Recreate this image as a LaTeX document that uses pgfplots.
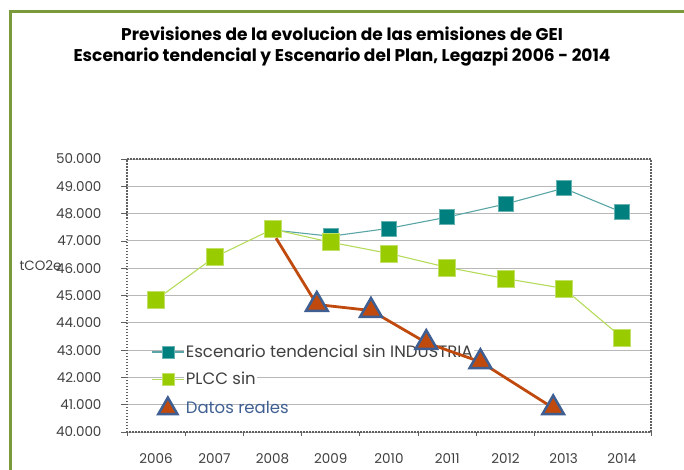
\documentclass[border=0pt]{standalone}
\usepackage{pgfplots}
\pgfplotsset{compat=1.18}
\usepackage{fontspec}
\setmainfont{Poppins}
\definecolor{frameg}{HTML}{7A9A3C}
\definecolor{tealS}{HTML}{007F7F}
\definecolor{tealL}{HTML}{5AA5A5}
\definecolor{greenS}{HTML}{99CC00}
\definecolor{greenL}{HTML}{B5DB5A}
\definecolor{orangeT}{HTML}{C04A0E}
\definecolor{blueT}{HTML}{3F5F92}
\definecolor{txt}{HTML}{404040}
\definecolor{gridc}{HTML}{B8B8B8}
\definecolor{axc}{HTML}{606060}
\begin{document}
\begin{tikzpicture}
\useasboundingbox (0pt,0pt) rectangle (684pt,469pt);
\draw[line width=3pt, color=frameg] (10pt,-5pt) -- (10pt,457pt) -- (690pt,457pt);
\node[font=\bfseries\fontsize{17}{20}\selectfont, text=black] at (342pt,435pt) {Previsiones de la evolucion de las emisiones de GEI};
\node[font=\bfseries\fontsize{17}{20}\selectfont, text=black] at (342pt,412pt) {Escenario tendencial y Escenario del Plan, Legazpi 2006 - 2014};
\begin{axis}[
  at={(127pt,37pt)}, anchor=south west,
  scale only axis, width=524pt, height=273pt,
  xmin=-0.5, xmax=8.5, ymin=40000, ymax=50000,
  xtick={0,...,8},
  xticklabels={2006,2007,2008,2009,2010,2011,2012,2013,2014},
  minor xtick={-0.5,0.5,...,8.5},
  ytick={40000,41000,...,50000},
  scaled y ticks=false,
  yticklabel style={/pgf/number format/fixed, /pgf/number format/1000 sep={.}, /pgf/number format/assume math mode=true, xshift=-16pt},
  xticklabel style={yshift=-12pt},
  ticklabel style={font=\fontsize{13.5}{15}\selectfont, text=txt},
  tick align=outside, xtick pos=bottom, ytick pos=left,
  major x tick style={draw=none},
  major y tick style={line width=0.8pt, color=axc},
  minor x tick style={line width=0.8pt, color=axc},
  major tick length=6pt, minor tick length=4pt,
  axis line style={line width=1.2pt, color=axc, dash pattern=on 1.5pt off 1.5pt},
  ymajorgrids, grid style={line width=0.9pt, color=gridc},
  ylabel={tCO2e},
  every axis y label/.style={at={(axis description cs:-0.165,0.61)}, anchor=center, font=\fontsize{13.5}{15}\selectfont, text=txt},
  legend style={at={(axis description cs:0.046,0.325)}, anchor=north west, draw=none, fill=none, inner sep=0pt, font=\fontsize{16.5}{18}\selectfont, text=txt, row sep=10pt, nodes={inner sep=1.5pt}},
  legend cell align=left,
  legend image code/.code={\draw[mark repeat=2,mark phase=2] plot coordinates {(0pt,0pt)(16pt,0pt)(32pt,0pt)};},
]
\addplot[forget plot, color=tealL, line width=1.1pt, mark=square*, mark size=7.5pt, mark options={solid, fill=tealS, draw=tealS!60!white, line width=0.6pt}]
  coordinates {(2,47400)(3,47170)(4,47460)(5,47870)(6,48350)(7,48930)(8,48050)};
\addplot[forget plot, color=greenL, line width=1.1pt, mark=square*, mark size=8.5pt, mark options={solid, fill=greenS, draw=greenS!60!white, line width=0.6pt}]
  coordinates {(0,44850)(1,46400)(2,47430)(3,46950)(4,46540)(5,46030)(6,45620)(7,45260)(8,43460)};
\addlegendimage{color=tealL, line width=1.1pt, mark=square*, mark size=6pt, mark options={solid, fill=tealS, draw=tealS!60!white, line width=0.6pt}}
\addlegendentry[fill=white]{Escenario tendencial sin INDUSTRIA}
\addlegendimage{color=greenL, line width=1.1pt, mark=square*, mark size=6pt, mark options={solid, fill=greenS, draw=greenS!60!white, line width=0.6pt}}
\addlegendentry[fill=white]{PLCC sin}
\addlegendimage{legend image code/.code={\draw[mark=triangle*, mark size=11pt, mark options={fill=orangeT, draw=blueT, line width=2.5pt}] plot coordinates {(16pt,0pt)};}}
\addlegendentry[text=blueT]{Datos reales}
\end{axis}
\begin{axis}[
  at={(127pt,37pt)}, anchor=south west,
  scale only axis, width=524pt, height=273pt,
  xmin=-0.5, xmax=8.5, ymin=40000, ymax=50000,
  hide axis,
]
\addplot[color=orangeT, line width=2.8pt, no marks]
  coordinates {(2.06,47100)(2.76,44670)(3.69,44450)(4.64,43270)(5.57,42570)(6.82,40880)};
\addplot[only marks, mark=triangle*, mark size=12.5pt, mark options={fill=orangeT, draw=blueT, line width=2.5pt}]
  coordinates {(2.76,44670)(3.69,44450)(4.64,43270)(5.57,42570)(6.82,40880)};
\end{axis}
\end{tikzpicture}
\end{document}
